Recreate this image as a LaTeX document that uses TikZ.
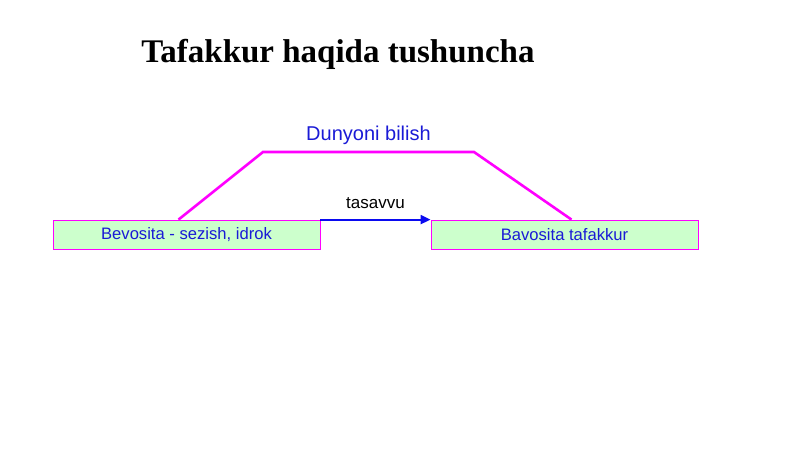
\documentclass[tikz,border=0pt]{standalone}
\usepackage{fontspec}
\setmainfont{Liberation Serif}
\setsansfont{Liberation Sans}
\usetikzlibrary{positioning, arrows.meta}

\definecolor{pushti}{HTML}{FF00FF}
\definecolor{yashil}{HTML}{CCFFCC}
\definecolor{kok}{HTML}{1A1AD6}
\definecolor{strelkaRang}{HTML}{0A0AF0}

\begin{document}
\begin{tikzpicture}[
        x=1pt, y=-1pt, % 1 px = 1 pt, y pastga
        quti/.style = {draw=pushti, line width=0.8pt, fill=yashil, minimum width=267pt,
                minimum height=29pt, inner sep=0pt, font=\sffamily\fontsize{16.6}{19}\selectfont,
                text=kok}, % Pastki qutilar
        yol/.style = {draw=pushti, line width=2.6pt, line join=miter},
        strelka/.style = {draw=strelkaRang, line width=2pt, -{Triangle[length=10pt, width=9pt]}},
    ]
    \useasboundingbox (0,0) rectangle (800,449);

    % Sarlavha
    \node[font=\bfseries\fontsize{33}{38}\selectfont] (sarlavha) at (338,54) {Tafakkur haqida tushuncha};

    % Qutilar
    \node[quti] (sezish) at (186.5,234.5) {Bevosita - sezish, idrok};
    \node[quti] (tafakkur) at (564.5,234.5) {Bavosita tafakkur};

    % Ustki yo'l
    \coordinate (chapBurchak) at (263,152);
    \coordinate (ongBurchak) at (474,152);
    \draw[yol] ([xshift=-8pt]sezish.north) -- (chapBurchak)
        -- node[above=3pt, text=kok, font=\sffamily\fontsize{20}{24}\selectfont] (dunyo) {Dunyoni bilish} (ongBurchak)
        -- ([xshift=7pt]tafakkur.north);

    % Strelka
    \draw[strelka] (sezish.north east) -- node[above=7pt, font=\sffamily\fontsize{17}{20}\selectfont] (tasavvu) {tasavvu} (tafakkur.north west);
\end{tikzpicture}
\end{document}
